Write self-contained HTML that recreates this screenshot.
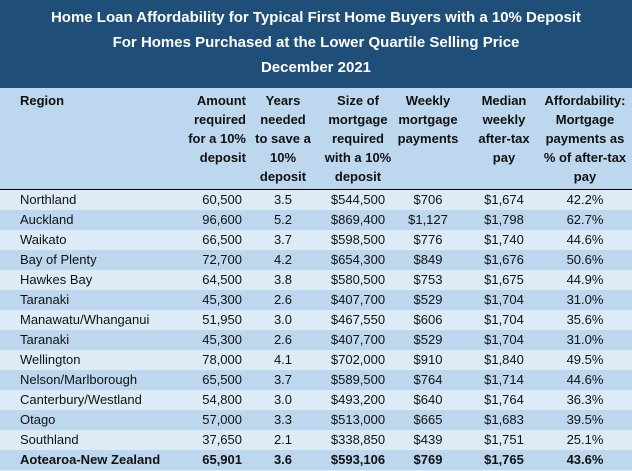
<!DOCTYPE html>
<html><head><meta charset="utf-8"><style>
body{margin:0;width:632px;height:471px;overflow:hidden;background:#DDEBF7;font-family:"Liberation Sans",sans-serif;}
#title{position:absolute;left:0;top:0;width:632px;height:88px;background:#1F4E79;color:#fff;font-weight:bold;font-size:15px;text-align:center;}
#title div{position:absolute;left:0;width:632px;}
#hdr{position:absolute;left:0;top:88px;width:632px;height:101px;background:#BDD7EE;border-bottom:1.5px solid #000;}
.h{position:absolute;font-weight:bold;font-size:13px;line-height:19px;color:#111;text-align:center;top:3px;}
.row{position:absolute;left:0;width:632px;height:20px;font-size:13px;color:#111;line-height:20px;}
.c{position:absolute;top:0;}
</style></head><body>
<div id="title">
<div style="top:9px">Home Loan Affordability for Typical First Home Buyers with a 10% Deposit</div>
<div style="top:34px">For Homes Purchased at the Lower Quartile Selling Price</div>
<div style="top:59px">December 2021</div>
</div>
<div id="hdr">
<div class="h" style="left:20px;text-align:left">Region</div>
<div class="h" style="left:184px;width:62px;text-align:right">Amount<br>required<br>for a 10%<br>deposit</div>
<div class="h" style="left:250px;width:66px">Years<br>needed<br>to save a<br>10%<br>deposit</div>
<div class="h" style="left:318px;width:80px">Size of<br>mortgage<br>required<br>with a 10%<br>deposit</div>
<div class="h" style="left:393px;width:70px">Weekly<br>mortgage<br>payments</div>
<div class="h" style="left:467px;width:74px">Median<br>weekly<br>after-tax<br>pay</div>
<div class="h" style="left:542px;width:86px">Affordability:<br>Mortgage<br>payments as<br>% of after-tax<br>pay</div>
</div>
<div id="rows"></div>
<script>
const regions=["Northland","Auckland","Waikato","Bay of Plenty","Hawkes Bay","Taranaki","Manawatu/Whanganui","Taranaki","Wellington","Nelson/Marlborough","Canterbury/Westland","Otago","Southland","Aotearoa-New Zealand"];
const amounts=["60,500","96,600","66,500","72,700","64,500","45,300","51,950","45,300","78,000","65,500","54,800","57,000","37,650","65,901"];
const years=["3.5","5.2","3.7","4.2","3.8","2.6","3.0","2.6","4.1","3.7","3.0","3.3","2.1","3.6"];
const mortgages=["$544,500","$869,400","$598,500","$654,300","$580,500","$407,700","$467,550","$407,700","$702,000","$589,500","$493,200","$513,000","$338,850","$593,106"];
const payments=["$706","$1,127","$776","$849","$753","$529","$606","$529","$910","$764","$640","$665","$439","$769"];
const pays=["$1,674","$1,798","$1,740","$1,676","$1,675","$1,704","$1,704","$1,704","$1,840","$1,714","$1,764","$1,683","$1,751","$1,765"];
const afford=["42.2%","62.7%","44.6%","50.6%","44.9%","31.0%","35.6%","31.0%","49.5%","44.6%","36.3%","39.5%","25.1%","43.6%"];
const cont=document.getElementById('rows');
regions.forEach((r,i)=>{
 const row=document.createElement('div');
 row.className='row';
 
 
 row.style.top=(190+i*20)+'px';
 row.style.background=i%2?'#BDD7EE':'#DDEBF7';
 if(i===regions.length-1)row.style.fontWeight='bold';
 const cells=[[r,'left:20px'],[amounts[i],'left:160px;width:82px;text-align:right'],[years[i],'left:250px;width:66px;text-align:center'],[mortgages[i],'left:318px;width:80px;text-align:center'],[payments[i],'left:393px;width:70px;text-align:center'],[pays[i],'left:467px;width:74px;text-align:center'],[afford[i],'left:542px;width:86px;text-align:center']];
 cells.forEach(c=>{
  const d=document.createElement('div');
  d.className='c';
  
  
  d.style.cssText+=c[1];
  d.textContent=c[0];
  row.appendChild(d);
 });
 cont.appendChild(row);
});
</script>
</body></html>
